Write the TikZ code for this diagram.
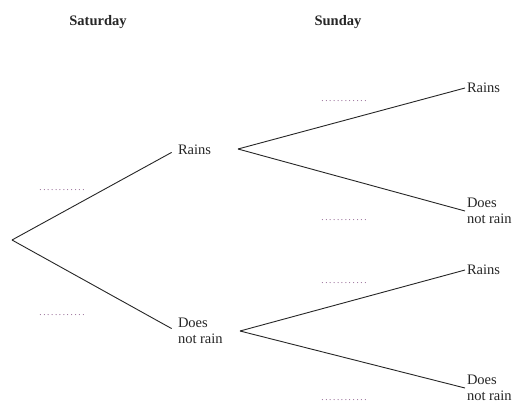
\documentclass[tikz,border=0pt]{standalone}
\usepackage{fontspec}
\setmainfont{Liberation Serif}
\begin{document}
\begin{tikzpicture}[x=1pt,y=-1pt,
  lbl/.style={anchor=west,inner sep=2pt,outer sep=0pt,align=left,font=\fontsize{14.5}{16.5}\selectfont,text=black!85},
  head/.style={inner sep=0pt,font=\fontsize{14.5}{17}\selectfont\bfseries,text=black!85},
  blank/.style={inner sep=0pt,text=violet!40!gray,font=\fontsize{9}{9}\selectfont},
  branch/.style={draw=black!85,line width=0.9pt}]
\useasboundingbox (0,0) rectangle (520,405);
\fill[white] (0,0) rectangle (520,405);
% headings
\node[head] (sat) at (98,22) {Saturday};
\node[head] (sun) at (338,22) {Sunday};
% tree points
\coordinate (root) at (12,240);
\node[lbl] (sR) at (176,150) {Rains};
\node[lbl] (sN) at (176,331) {Does\\not rain};
\coordinate (fR) at (238,149);
\coordinate (fN) at (240,331);
\node[lbl] (uR) at (465,88) {Rains};
\node[lbl] (uN) at (465,211) {Does\\not rain};
\node[lbl] (lR) at (465,270) {Rains};
\node[lbl] (lN) at (465,388) {Does\\not rain};
% branches
\draw[branch,shorten >=5pt] (root) -- (sR.west);
\draw[branch,shorten >=5pt] (root) -- (sN.west);
\draw[branch] (fR) -- (uR.west);
\draw[branch] (fR) -- (uN.west);
\draw[branch] (fN) -- (lR.west);
\draw[branch] (fN) -- (lN.west);
% answer blanks
\newcommand{\blankdots}{\hbox to 47pt{\xleaders\hbox to 3.9pt{\hss.\hss}\hfill}}
\node[blank] (b1) at (62,190) {\blankdots};
\node[blank] (b2) at (62,315) {\blankdots};
\node[blank] (b3) at (344,101) {\blankdots};
\node[blank] (b4) at (344,220) {\blankdots};
\node[blank] (b5) at (344,283) {\blankdots};
\node[blank] (b6) at (344,400) {\blankdots};
\end{tikzpicture}
\end{document}
